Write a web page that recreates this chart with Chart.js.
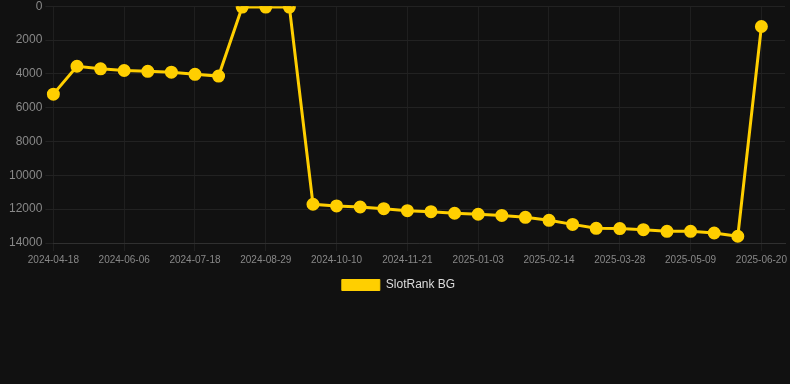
<!DOCTYPE html>
<html>
<head>
<meta charset="utf-8">
<script src="https://cdn.jsdelivr.net/npm/chart.js@4/dist/chart.umd.min.js"></script>
<style>
  html, body { margin: 0; padding: 0; background: #111111; overflow: hidden; }
  #wrap { position: relative; width: 793px; height: 305px; margin-top: -4px; }
</style>
</head>
<body>
<div id="wrap"><canvas id="rank-chart"></canvas></div>
<script>
// dates on the x axis (only every third one is shown)
const dates = [
  '2024-04-18', '2024-05-09', '2024-05-23', '2024-06-06', '2024-06-20', '2024-07-04',
  '2024-07-18', '2024-08-01', '2024-08-15', '2024-08-29', '2024-09-12', '2024-09-26',
  '2024-10-10', '2024-10-24', '2024-11-07', '2024-11-21', '2024-12-05', '2024-12-19',
  '2025-01-03', '2025-01-17', '2025-01-31', '2025-02-14', '2025-02-28', '2025-03-14',
  '2025-03-28', '2025-04-11', '2025-04-25', '2025-05-09', '2025-05-23', '2025-06-06',
  '2025-06-20', '2025-07-04'
];

// rank values (lower is better, axis is reversed)
const rankBG = [
  5200, 3550, 3700, 3800, 3850, 3900, 4030, 4130,
  50, 50, 50,
  11710, 11810, 11870, 11970, 12090, 12150, 12240, 12300, 12370, 12480,
  12660, 12900, 13130, 13150, 13210, 13310, 13310, 13410, 13600,
  1200, null
];

const yTicks = [0, 2000, 4000, 6000, 8000, 10000, 12000, 14000];

const gold = '#ffcf00';
const font = 'Arial, "Liberation Sans", sans-serif';
const ctx = document.getElementById('rank-chart');

new Chart(ctx, {
  type: 'line',
  data: {
    labels: dates,
    datasets: [{
      label: 'SlotRank BG',
      data: rankBG,
      borderColor: gold,
      backgroundColor: gold,
      borderWidth: 3,
      pointRadius: 5,
      pointBackgroundColor: gold,
      pointBorderColor: gold,
      tension: 0
    }]
  },
  options: {
    responsive: true,
    maintainAspectRatio: false,
    animation: false,
    layout: {
      padding: { left: 6, right: 2 }
    },
    plugins: {
      legend: {
        position: 'bottom',
        labels: {
          boxWidth: 38,
          boxHeight: 11,
          color: '#dddddd',
          font: { family: font, size: 12 },
          generateLabels: (chart) => {
            const items = Chart.defaults.plugins.legend.labels.generateLabels(chart);
            items.forEach(it => { it.lineWidth = 1; });
            return items;
          }
        }
      },
      tooltip: { enabled: false }
    },
    scales: {
      x: {
        grid: { color: '#1f1f1f' },
        border: { color: '#303030' },
        ticks: {
          color: '#888888',
          maxRotation: 0,
          autoSkip: true,
          maxTicksLimit: 11,
          font: { family: font, size: 10 }
        }
      },
      y: {
        reverse: true,
        min: 0,
        max: 14000,
        afterBuildTicks: (axis) => {
          axis.ticks = yTicks.map(v => ({ value: v }));
        },
        grid: { color: '#222222' },
        border: { display: false },
        ticks: {
          color: '#888888',
          font: { family: font, size: 12 },
          callback: (value) => String(value)
        }
      }
    }
  }
});
</script>
</body>
</html>
